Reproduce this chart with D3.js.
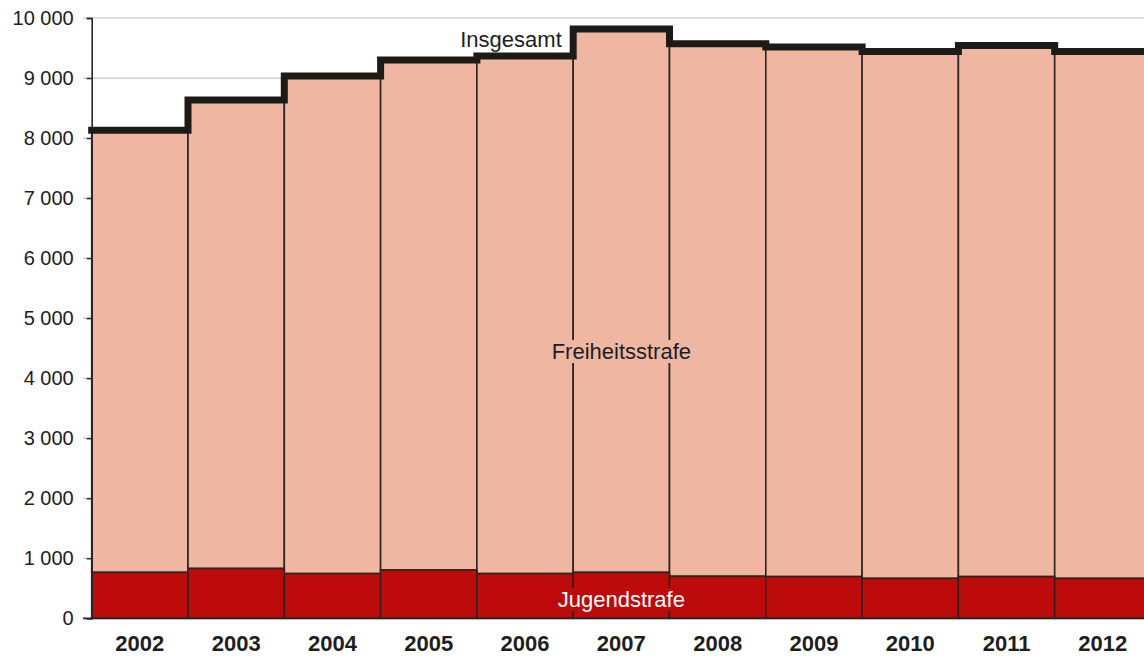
<!DOCTYPE html>
<html lang="de">
<head>
<meta charset="utf-8">
<script src="https://d3js.org/d3.v7.min.js"></script>
<style>
  body { margin: 0; background: #fff; }
  text { font-family: "Liberation Sans", Arial, sans-serif; }
</style>
</head>
<body>
<script>
var years = ["2002", "2003", "2004", "2005", "2006", "2007", "2008", "2009", "2010", "2011", "2012"];
var jugendstrafe = [765, 830, 745, 805, 745, 765, 700, 695, 665, 695, 665];
var freiheitsstrafe = [7365, 7805, 8290, 8495, 8620, 9050, 8870, 8820, 8775, 8845, 8775];
var yTicks = [0, 1000, 2000, 3000, 4000, 5000, 6000, 7000, 8000, 9000, 10000];

var width = 1144, height = 657;
var plotLeft = 91.7, plotRight = 1151, plotTop = 18, plotBottom = 618.3;

var svg = d3.select("body").append("svg")
    .attr("width", width)
    .attr("height", height);

var x = d3.scaleBand().domain(years).range([plotLeft, plotRight]).paddingInner(0);
var y = d3.scaleLinear().domain([0, 10000]).range([plotBottom, plotTop]);

var de = d3.formatLocale({ decimal: ",", thousands: " ", grouping: [3], currency: ["", "€"] });
var fmt = de.format(",d");

// gridlines
svg.append("g").selectAll("line")
    .data(yTicks.filter(function(d) { return d > 0; }))
    .enter().append("line")
    .attr("x1", 83).attr("x2", width)
    .attr("y1", function(d) { return y(d); })
    .attr("y2", function(d) { return y(d); })
    .attr("stroke", "#c4c4c4")
    .attr("stroke-width", 1.2);

var totals = years.map(function(yr, i) { return jugendstrafe[i] + freiheitsstrafe[i]; });

// bars
var bars = svg.append("g");
bars.selectAll(".frei")
    .data(years)
    .enter().append("rect")
    .attr("x", function(d) { return x(d); })
    .attr("width", x.bandwidth())
    .attr("y", function(d, i) { return y(totals[i]); })
    .attr("height", function(d, i) { return y(jugendstrafe[i]) - y(totals[i]); })
    .attr("fill", "#efb7a2")
    .attr("stroke", "#2b2420")
    .attr("stroke-width", 1.6);

bars.selectAll(".jug")
    .data(years)
    .enter().append("rect")
    .attr("x", function(d) { return x(d); })
    .attr("width", x.bandwidth())
    .attr("y", function(d, i) { return y(jugendstrafe[i]); })
    .attr("height", function(d, i) { return y(0) - y(jugendstrafe[i]); })
    .attr("fill", "#bd0b0b")
    .attr("stroke", "#2b2420")
    .attr("stroke-width", 1.6);

// y axis
var yAxis = svg.append("g")
    .attr("transform", "translate(" + plotLeft + ",0)")
    .call(d3.axisLeft(y).tickValues(yTicks).tickFormat(fmt).tickSize(5).tickPadding(13));
yAxis.select(".domain").attr("stroke", "#2b2420").attr("stroke-width", 1.6);
yAxis.selectAll(".tick line").attr("stroke", "#2b2420").attr("stroke-width", 1.4);
yAxis.selectAll(".tick text")
    .attr("font-size", 20)
    .attr("fill", "#1e1e1e")
    .attr("font-family", "Liberation Sans, Arial, sans-serif");

// baseline
svg.append("line")
    .attr("x1", 83).attr("x2", width)
    .attr("y1", y(0)).attr("y2", y(0))
    .attr("stroke", "#2b2420").attr("stroke-width", 1.8);

// x labels
svg.append("g").selectAll("text")
    .data(years)
    .enter().append("text")
    .attr("x", function(d) { return x(d) + x.bandwidth() / 2; })
    .attr("y", 651)
    .attr("text-anchor", "middle")
    .attr("font-size", 22)
    .attr("font-weight", "bold")
    .attr("fill", "#1e1e1e")
    .text(function(d) { return d; });

// step line for total
var pts = [];
years.forEach(function(d, i) {
    pts.push([x(d), y(totals[i])]);
    pts.push([x(d) + x.bandwidth(), y(totals[i])]);
});
svg.append("path")
    .attr("d", d3.line()(pts))
    .attr("fill", "none")
    .attr("stroke", "#1d1b17")
    .attr("stroke-width", 7)
    .attr("stroke-linejoin", "miter")
    .attr("stroke-linecap", "square");

// labels with background
function label(txt, cx, by, color, bg) {
    var g = svg.append("g");
    var t = g.append("text")
        .attr("x", cx).attr("y", by)
        .attr("text-anchor", "middle")
        .attr("font-size", 22)
        .attr("fill", color)
        .text(txt);
    if (bg) {
        var b = t.node().getBBox();
        g.insert("rect", "text")
            .attr("x", b.x - 2).attr("y", b.y + 1)
            .attr("width", b.width + 4).attr("height", b.height - 2)
            .attr("fill", bg);
    }
}
label("Insgesamt", 511, 47, "#1e1e1e", null);
label("Freiheitsstrafe", x("2007") + x.bandwidth() / 2, 359, "#1e1e1e", "#efb7a2");
label("Jugendstrafe", x("2007") + x.bandwidth() / 2, 607, "#fff", "#bd0b0b");
</script>
</body>
</html>
